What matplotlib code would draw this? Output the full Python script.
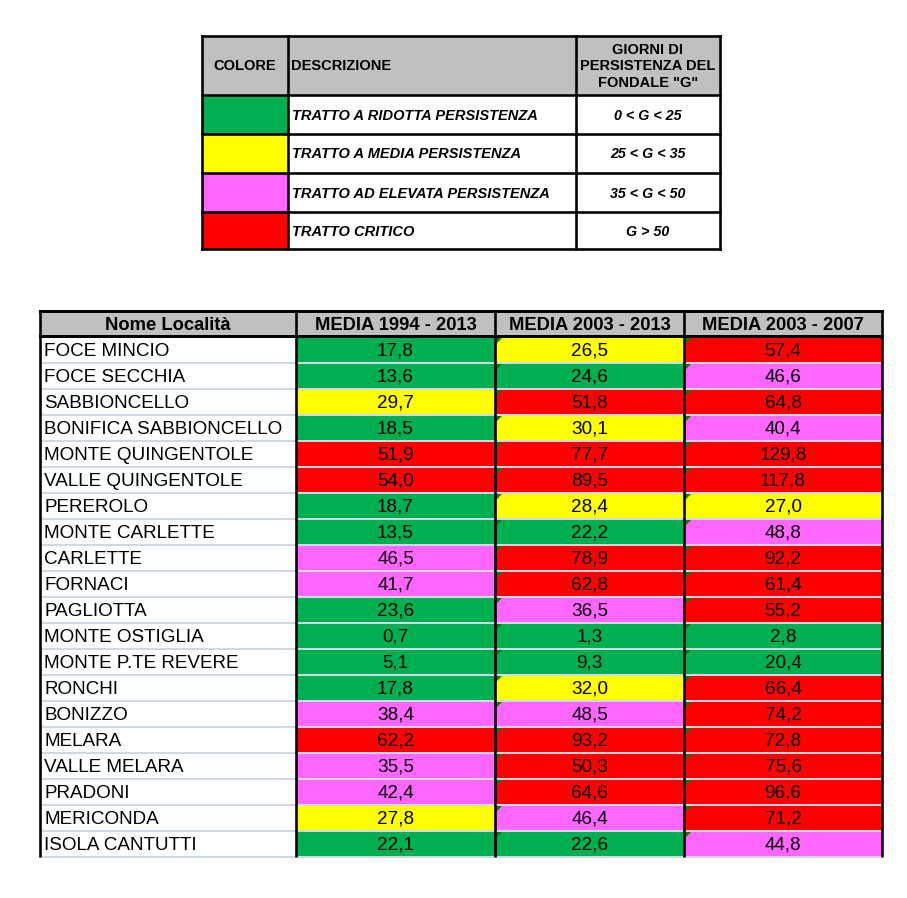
import numpy as np
import matplotlib
matplotlib.use("Agg")
import matplotlib.pyplot as plt
from matplotlib.patches import Rectangle, Polygon
from matplotlib.colors import ListedColormap, BoundaryNorm

# Legend (class) data
class_colors = ["#00b050", "#ffff00", "#ff66ff", "#ff0000"]
class_bounds = [0, 25, 35, 50, 1000]
class_desc = ["TRATTO A RIDOTTA PERSISTENZA", "TRATTO A MEDIA PERSISTENZA",
              "TRATTO AD ELEVATA PERSISTENZA", "TRATTO CRITICO"]
class_range = ["0 < G < 25", "25 < G < 35", "35 < G < 50", "G > 50"]
legend_header = ["COLORE", "DESCRIZIONE", 'GIORNI DI\nPERSISTENZA DEL\nFONDALE "G"']

# Main table data
col_header = ["Nome Località", "MEDIA 1994 - 2013", "MEDIA 2003 - 2013", "MEDIA 2003 - 2007"]
names = ["FOCE MINCIO", "FOCE SECCHIA", "SABBIONCELLO", "BONIFICA SABBIONCELLO",
         "MONTE QUINGENTOLE", "VALLE QUINGENTOLE", "PEREROLO", "MONTE CARLETTE",
         "CARLETTE", "FORNACI", "PAGLIOTTA", "MONTE OSTIGLIA", "MONTE P.TE REVERE",
         "RONCHI", "BONIZZO", "MELARA", "VALLE MELARA", "PRADONI", "MERICONDA",
         "ISOLA CANTUTTI"]
media_1994_2013 = [17.8, 13.6, 29.7, 18.5, 51.9, 54.0, 18.7, 13.5, 46.5, 41.7,
                   23.6, 0.7, 5.1, 17.8, 38.4, 62.2, 35.5, 42.4, 27.8, 22.1]
media_2003_2013 = [26.5, 24.6, 51.8, 30.1, 77.7, 89.5, 28.4, 22.2, 78.9, 62.8,
                   36.5, 1.3, 9.3, 32.0, 48.5, 93.2, 50.3, 64.6, 46.4, 22.6]
media_2003_2007 = [57.4, 46.6, 64.8, 40.4, 129.8, 117.8, 27.0, 48.8, 92.2, 61.4,
                   55.2, 2.8, 20.4, 66.4, 74.2, 72.8, 75.6, 96.6, 71.2, 44.8]

cmap = ListedColormap(class_colors)
norm = BoundaryNorm(class_bounds, cmap.N)

plt.rcParams['font.family'] = ['Liberation Sans', 'DejaVu Sans']

fig = plt.figure(figsize=(9.07, 8.98), dpi=100)
ax = fig.add_axes([0, 0, 1, 1])
ax.set_xlim(0, 907)
ax.set_ylim(898, 0)
ax.axis('off')

PX = 0.72  # px -> pt
HEAD_GRAY = "#c0c0c0"
GRID = "#d0d7e5"

# ---------------- legend table ----------------
lx = [202, 288, 576, 720]
ly = [36, 95, 134, 173, 212, 249]
ax.add_patch(Rectangle((lx[0], ly[0]), lx[-1] - lx[0], ly[1] - ly[0],
                       facecolor=HEAD_GRAY, edgecolor='none'))
for i, c in enumerate(class_colors):
    ax.add_patch(Rectangle((lx[0], ly[i + 1]), lx[1] - lx[0], ly[i + 2] - ly[i + 1],
                           facecolor=c, edgecolor='none'))
for y in ly:
    ax.plot([lx[0], lx[-1]], [y, y], color='black', lw=2.6 * PX, solid_capstyle='projecting')
for x in lx:
    ax.plot([x, x], [ly[0], ly[-1]], color='black', lw=2.6 * PX, solid_capstyle='projecting')

hy = (ly[0] + ly[1]) / 2
ax.text((lx[0] + lx[1]) / 2, hy + 1, legend_header[0], ha='center', va='center',
        fontsize=10.5, fontweight='bold')
ax.text(lx[1] + 3, hy + 1, legend_header[1], ha='left', va='center',
        fontsize=10.5, fontweight='bold')
ax.text((lx[2] + lx[3]) / 2, hy + 1, legend_header[2], ha='center', va='center',
        fontsize=10.5, fontweight='bold', linespacing=1.2)
for i in range(len(class_desc)):
    cy = (ly[i + 1] + ly[i + 2]) / 2 + 1
    ax.text(lx[1] + 4, cy, class_desc[i], ha='left', va='center',
            fontsize=10.5, fontweight='bold', style='italic')
    ax.text((lx[2] + lx[3]) / 2, cy, class_range[i], ha='center', va='center',
            fontsize=10.3, fontweight='bold', style='italic')

# ---------------- main table ----------------
mx = [40, 296, 495, 684, 882]
top, head_bot, row_h = 311, 337, 26
n = len(names)
row_y = head_bot + row_h * np.arange(n + 1)

ax.add_patch(Rectangle((mx[0], top), mx[-1] - mx[0], head_bot - top,
                       facecolor=HEAD_GRAY, edgecolor='none'))
series = [media_1994_2013, media_2003_2013, media_2003_2007]
for j, vals in enumerate(series):
    cols = cmap(norm(np.array(vals)))
    for i, v in enumerate(vals):
        ax.add_patch(Rectangle((mx[j + 1], row_y[i]), mx[j + 2] - mx[j + 1], row_h,
                               facecolor=cols[i], edgecolor='none'))
        ax.text((mx[j + 1] + mx[j + 2]) / 2, row_y[i] + row_h / 2 + 1,
                f"{v:.1f}".replace(".", ","), ha='center', va='center', fontsize=13.6)
        if j > 0:
            # small excel "error" marker in the top-left corner
            x0, y0 = mx[j + 1] + 1, row_y[i] + 1
            ax.add_patch(Polygon([[x0, y0], [x0 + 6, y0], [x0, y0 + 6]],
                                 closed=True, facecolor="#008000", edgecolor='none'))

for i, name in enumerate(names):
    ax.text(mx[0] + 4, row_y[i] + row_h / 2 + 1, name, ha='left', va='center', fontsize=13.6)

# light gridlines between rows
for y in row_y[1:]:
    ax.plot([mx[0], mx[-1]], [y, y], color=GRID, lw=2 * PX)

# black borders
ax.plot([mx[0], mx[-1]], [top, top], color='black', lw=3 * PX, solid_capstyle='projecting')
ax.plot([mx[0], mx[-1]], [head_bot - 1, head_bot - 1], color='black', lw=3 * PX)
for x in mx:
    ax.plot([x, x], [top, row_y[-1]], color='black', lw=2.6 * PX, solid_capstyle='butt')

for j, h in enumerate(col_header):
    ax.text((mx[j] + mx[j + 1]) / 2, (top + head_bot) / 2 + 1, h, ha='center', va='center',
            fontsize=13.2, fontweight='bold')

fig.savefig("out.png", dpi=100)
